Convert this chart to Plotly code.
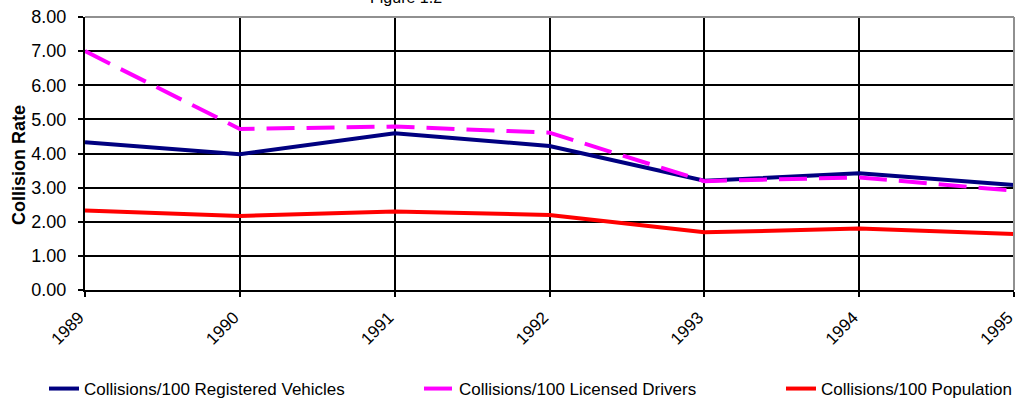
import plotly.graph_objects as go

years = [1989, 1990, 1991, 1992, 1993, 1994, 1995]
veh = [4.33, 3.98, 4.59, 4.22, 3.20, 3.42, 3.08]
drv = [7.00, 4.72, 4.79, 4.61, 3.19, 3.30, 2.91]
pop = [2.33, 2.17, 2.30, 2.20, 1.69, 1.80, 1.64]
names = ["Collisions/100 Registered Vehicles", "Collisions/100 Licensed Drivers", "Collisions/100 Population"]
y_ticks = [0, 1, 2, 3, 4, 5, 6, 7, 8]

FONT = "Liberation Sans, Arial, sans-serif"
W, H = 1016, 400
L, R, T, B = 85, 2, 17, 110
PW, PH = W - L - R, H - T - B

fig = go.Figure()
fig.add_trace(go.Scatter(x=years, y=veh, mode="lines", name=names[0], legend="legend",
                         line=dict(color="#000080", width=4)))
fig.add_trace(go.Scatter(x=years, y=drv, mode="lines", name=names[1], legend="legend2",
                         line=dict(color="#FF00FF", width=4, dash="28px,12px")))
fig.add_trace(go.Scatter(x=years, y=pop, mode="lines", name=names[2], legend="legend3",
                         line=dict(color="#FF0000", width=4)))

def leg(xpx):
    return dict(orientation="h", xref="container", yref="container",
                x=xpx / W, y=1 - 389 / H, xanchor="left", yanchor="middle",
                font=dict(size=17), bgcolor="rgba(0,0,0,0)", borderwidth=0)

fig.update_layout(
    width=W, height=H,
    margin=dict(l=L, r=R, t=T, b=B),
    paper_bgcolor="white", plot_bgcolor="white",
    font=dict(family=FONT, size=16, color="black"),
    showlegend=True,
    legend=leg(44), legend2=leg(419), legend3=leg(781),
    xaxis=dict(range=[1989, 1995], tickmode="array", tickvals=years,
               ticktext=[str(y) for y in years], tickangle=-45,
               showgrid=True, gridcolor="black", gridwidth=1.5,
               showline=True, linecolor="black", linewidth=2,
               ticks="outside", ticklen=5, tickcolor="black", tickwidth=1.5,
               tickfont=dict(size=17), zeroline=False, automargin=False,
               ticklabeloverflow="allow", ticklabelshift=-6, ticklabelstandoff=4),
    yaxis=dict(range=[0, 8], tickmode="array", tickvals=y_ticks,
               ticktext=[f"{v:.2f}" for v in y_ticks],
               showgrid=True, gridcolor="black", gridwidth=1.5,
               showline=True, linecolor="black", linewidth=2,
               ticks="outside", ticklen=5, tickcolor="black", tickwidth=1.5,
               tickfont=dict(size=18), zeroline=False, automargin=False,
               ticklabelstandoff=8),
    shapes=[
        dict(type="line", xref="paper", yref="paper", x0=0, x1=1, y0=1, y1=1,
             line=dict(color="#909090", width=2)),
        dict(type="line", xref="paper", yref="paper", x0=1, x1=1, y0=0, y1=1,
             line=dict(color="#909090", width=2)),
    ],
    annotations=[
        dict(text="Figure 1.2", xref="paper", yref="paper", x=(406 - L) / PW,
             y=(H - B + 3) / PH, xanchor="center", yanchor="middle",
             showarrow=False, font=dict(size=16)),
        dict(text="<b>Collision Rate</b>", xref="paper", yref="paper",
             x=(19 - L) / PW, y=(H - B - 165) / PH, xanchor="center", yanchor="middle",
             textangle=-90, showarrow=False, font=dict(size=18)),
    ],
)

fig.write_html("out.html", config={"displayModeBar": False},
               post_script="document.body.style.margin='0';document.body.style.overflow='hidden';")
